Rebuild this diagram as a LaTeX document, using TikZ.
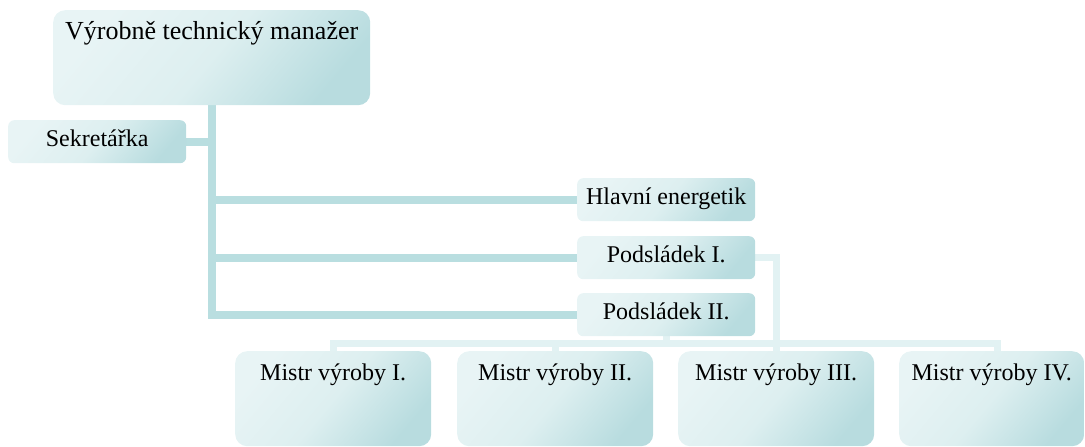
\documentclass[tikz,border=0pt]{standalone}
\usepackage{fontspec}
\setmainfont{Liberation Serif}
\usetikzlibrary{backgrounds}
\definecolor{boxlight}{RGB}{232,244,245}
\definecolor{boxmid}{RGB}{221,239,240}
\definecolor{boxdark}{RGB}{184,220,223}
\definecolor{trunkline}{RGB}{185,222,224}
\definecolor{feederline}{RGB}{226,242,243}
\begin{document}
\begin{tikzpicture}[x=1pt,y=-1pt,
  box/.style={draw=none, top color=boxlight, bottom color=boxdark, middle color=boxmid,
    shading angle=50, inner sep=0pt, anchor=north west, align=center, text=black,
    font=\fontsize{24}{28}\selectfont},
  bigbox/.style={box, rounded corners=12pt, text height=29pt, text depth=66pt},
  smallbox/.style={box, rounded corners=6pt, text height=26pt, text depth=17pt, minimum width=178pt},
  branch/.style={draw=trunkline, line width=8pt},
  feeder/.style={draw=feederline, line width=7pt}]

  \useasboundingbox (0,0) rectangle (1085,447);

  % boxes
  \node[bigbox, minimum width=317pt, font=\fontsize{26}{30}\selectfont] (top) at (53,10) {Výrobně technický manažer};
  \node[smallbox] (sek)  at (8,120)   {Sekretářka};
  \node[smallbox] (hlav) at (577,178) {Hlavní energetik};
  \node[smallbox] (pod1) at (577,236) {Podsládek I.};
  \node[smallbox] (pod2) at (577,293) {Podsládek II.};
  \node[bigbox, minimum width=196pt] (m1) at (235,351) {Mistr výroby I.};
  \node[bigbox, minimum width=196pt] (m2) at (457,351) {Mistr výroby II.};
  \node[bigbox, minimum width=196pt] (m3) at (678,351) {Mistr výroby III.};
  \node[bigbox, minimum width=185pt] (m4) at (899,351) {Mistr výroby IV.};

  \begin{scope}[on background layer]
    % main trunk with its side branches
    \draw[branch] (top.south) -- (top.south |- pod2.west) -- (pod2.west);
    \draw[branch] (sek.east)  -- (sek.east  -| top.south);
    \draw[branch] (hlav.west) -- (hlav.west -| top.south);
    \draw[branch] (pod1.west) -- (pod1.west -| top.south);

    % lower bus feeding the foremen
    \coordinate (bus) at (0,343);
    \draw[feeder] (m1.north) -- (m1.north |- bus) -- ([xshift=6pt]m4.north |- bus) -- ([xshift=6pt]m4.north);
    \draw[feeder] (m2.north) -- (m2.north |- bus);
    \draw[feeder] (pod2.south) -- (pod2.south |- bus);
    \draw[feeder] (pod1.east) -- (pod1.east -| m3.north) -- (m3.north);
  \end{scope}
\end{tikzpicture}
\end{document}
